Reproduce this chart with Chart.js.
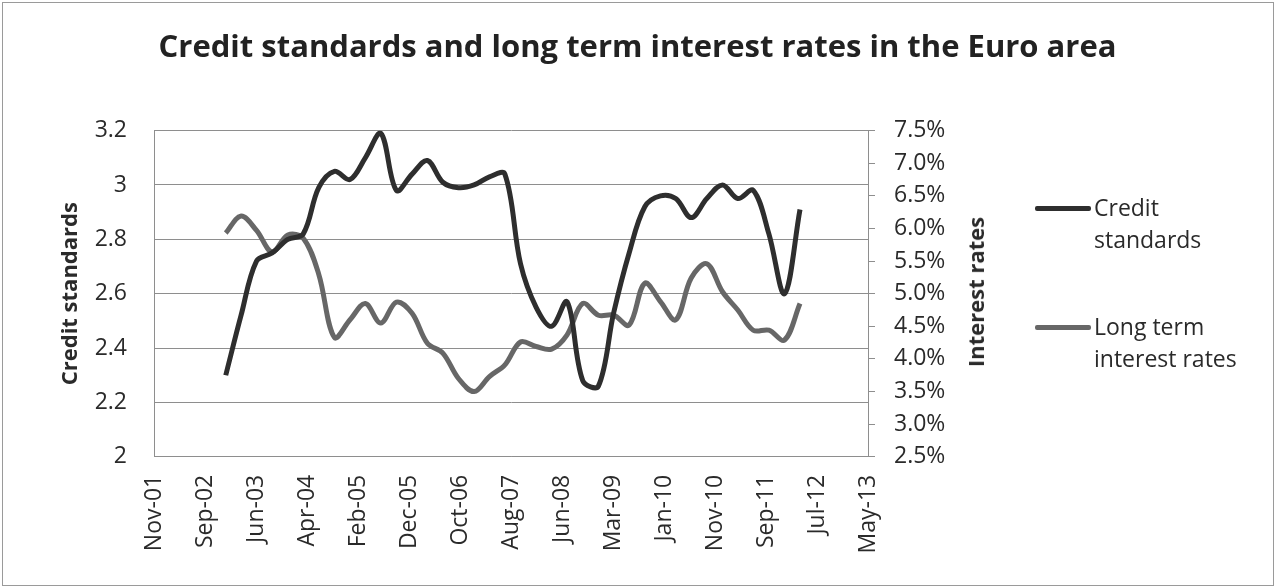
<!DOCTYPE html>
<html>
<head>
<meta charset="utf-8">
<title>Credit standards and long term interest rates</title>
<script src="https://cdn.jsdelivr.net/npm/chart.js@4.4.1/dist/chart.umd.min.js"></script>
<style>
    body { margin: 0; background: #fff; }
    #wrap { position: relative; width: 1275px; height: 587px; font-family: "Open Sans", Lato, sans-serif; color: #2a2a2a; }
    #frame { position: absolute; left: 2px; top: 2px; width: 1270px; height: 582px; border: 1px solid #9a9a9a; pointer-events: none; }
    #rightTitle { position: absolute; left: 975px; top: 292px; transform: translate(-50%, -50%) rotate(-90deg); white-space: nowrap; font-weight: bold; font-size: 22px; }
    .legend-item { position: absolute; left: 1035px; }
    .legend-item .swatch { position: absolute; left: 0; width: 56px; height: 5px; border-radius: 2px; }
    .legend-item .text { position: absolute; left: 59px; font-size: 23px; line-height: 32px; white-space: nowrap; }
</style>
</head>
<body>
<div id="wrap">
    <canvas id="creditChart" width="1275" height="587"></canvas>
    <div id="rightTitle">Interest rates</div>
    <div class="legend-item" style="top:208px">
        <div class="swatch" style="top:-2.5px;background:#2e2e2e"></div>
        <div class="text" style="top:-17px">Credit<br>standards</div>
    </div>
    <div class="legend-item" style="top:327px">
        <div class="swatch" style="top:-2.5px;background:#676767"></div>
        <div class="text" style="top:-17px">Long term<br>interest rates</div>
    </div>
    <div id="frame"></div>
</div>
<script>
"use strict";

// quarterly observations
const quarters = [
    '2003-01', '2003-04', '2003-07', '2003-10',
    '2004-01', '2004-04', '2004-07', '2004-10',
    '2005-01', '2005-04', '2005-07', '2005-10',
    '2006-01', '2006-04', '2006-07', '2006-10',
    '2007-01', '2007-04', '2007-07', '2007-10',
    '2008-01', '2008-04', '2008-07', '2008-10',
    '2009-01', '2009-04', '2009-07', '2009-10',
    '2010-01', '2010-04', '2010-07', '2010-10',
    '2011-01', '2011-04', '2011-07', '2011-10',
    '2012-01', '2012-04'
];
const creditStandards = [
    2.30, 2.52, 2.72, 2.75, 2.80, 2.82, 2.99, 3.05, 3.02, 3.10,
    3.19, 2.98, 3.04, 3.09, 3.01, 2.99, 3.00, 3.03, 3.04, 2.71,
    2.55, 2.48, 2.57, 2.28, 2.26, 2.53, 2.75, 2.92, 2.96, 2.95,
    2.88, 2.95, 3.00, 2.95, 2.98, 2.82, 2.60, 2.91
];
const interestRates = [
    5.93, 6.19, 5.97, 5.64, 5.90, 5.85, 5.30, 4.33, 4.60, 4.85,
    4.55, 4.87, 4.70, 4.24, 4.09, 3.70, 3.50, 3.73, 3.91, 4.26,
    4.19, 4.15, 4.37, 4.85, 4.67, 4.67, 4.52, 5.16, 4.88, 4.60,
    5.24, 5.46, 5.03, 4.75, 4.44, 4.44, 4.29, 4.85
];

// date axis: starts 5 Nov 2001, one tick every 300 days
const xAxisStart = Date.UTC(2001, 10, 5);
const xTickDays = 300;
const xTickLabels = [
    'Nov-01', 'Sep-02', 'Jun-03', 'Apr-04', 'Feb-05', 'Dec-05', 'Oct-06', 'Aug-07',
    'Jun-08', 'Mar-09', 'Jan-10', 'Nov-10', 'Sep-11', 'Jul-12', 'May-13'
];
const leftTickLabels = ['2', '2.2', '2.4', '2.6', '2.8', '3', '3.2'];
const rightTickLabels = ['2.5%', '3.0%', '3.5%', '4.0%', '4.5%', '5.0%', '5.5%', '6.0%', '6.5%', '7.0%', '7.5%'];

const FONT = 'Open Sans';
const TEXT_COLOR = '#2a2a2a';
const GRID_COLOR = '#8e8e8e';

function dayOffset(q) {
    const [y, m] = q.split('-').map(Number);
    return (Date.UTC(y, m - 1, 1) - xAxisStart) / 86400000;
}

const xs = quarters.map(dayOffset);
const creditPoints = xs.map((x, i) => ({ x, y: creditStandards[i] }));
const ratePoints = xs.map((x, i) => ({ x, y: interestRates[i] }));

const ctx = document.getElementById('creditChart').getContext('2d');
new Chart(ctx, {
    type: 'line',
    data: {
        datasets: [
            { label: 'Credit standards', data: creditPoints, yAxisID: 'y', borderColor: '#2e2e2e', borderWidth: 5, pointRadius: 0, tension: 0.35 },
            { label: 'Long term interest rates', data: ratePoints, yAxisID: 'y1', borderColor: '#676767', borderWidth: 5, pointRadius: 0, tension: 0.35 }
        ]
    },
    options: {
        responsive: false,
        animation: false,
        layout: { padding: 0 },
        plugins: {
            legend: { display: false },
            tooltip: { enabled: false },
            title: {
                display: true,
                text: 'Credit standards and long term interest rates in the Euro area',
                color: '#222',
                font: { family: FONT, size: 31, weight: 'bold' },
                padding: { top: 30, bottom: 63.4 }
            }
        },
        scales: {
            x: {
                type: 'linear',
                min: 0,
                max: xTickDays * (xTickLabels.length - 1),
                afterFit: s => { s.height = 130.2; },
                grid: { display: false },
                border: { display: true, color: GRID_COLOR, width: 1 },
                ticks: {
                    stepSize: xTickDays,
                    autoSkip: false,
                    minRotation: 90,
                    maxRotation: 90,
                    padding: 10,
                    color: TEXT_COLOR,
                    font: { family: FONT, size: 23 },
                    callback: (v, i) => xTickLabels[i]
                }
            },
            y: {
                position: 'left',
                min: 2,
                max: 3.2,
                afterFit: s => { s.width = 154; },
                grid: { color: GRID_COLOR, lineWidth: 1, drawTicks: false },
                border: { display: true, color: GRID_COLOR, width: 1 },
                ticks: {
                    stepSize: 0.2,
                    padding: 27,
                    color: TEXT_COLOR,
                    font: { family: FONT, size: 23 },
                    callback: (v, i) => leftTickLabels[i]
                },
                title: {
                    display: true,
                    text: 'Credit standards',
                    color: TEXT_COLOR,
                    font: { family: FONT, size: 22, weight: 'bold' },
                    padding: { top: 58, bottom: 0 }
                }
            },
            y1: {
                position: 'right',
                min: 2.5,
                max: 7.5,
                afterFit: s => { s.width = 407; },
                grid: { drawOnChartArea: false, drawTicks: true, tickLength: 7, color: GRID_COLOR },
                border: { display: true, color: GRID_COLOR, width: 1 },
                ticks: {
                    stepSize: 0.5,
                    padding: 19,
                    color: TEXT_COLOR,
                    font: { family: FONT, size: 23 },
                    callback: (v, i) => rightTickLabels[i]
                }
            }
        }
    }
});
</script>
</body>
</html>
